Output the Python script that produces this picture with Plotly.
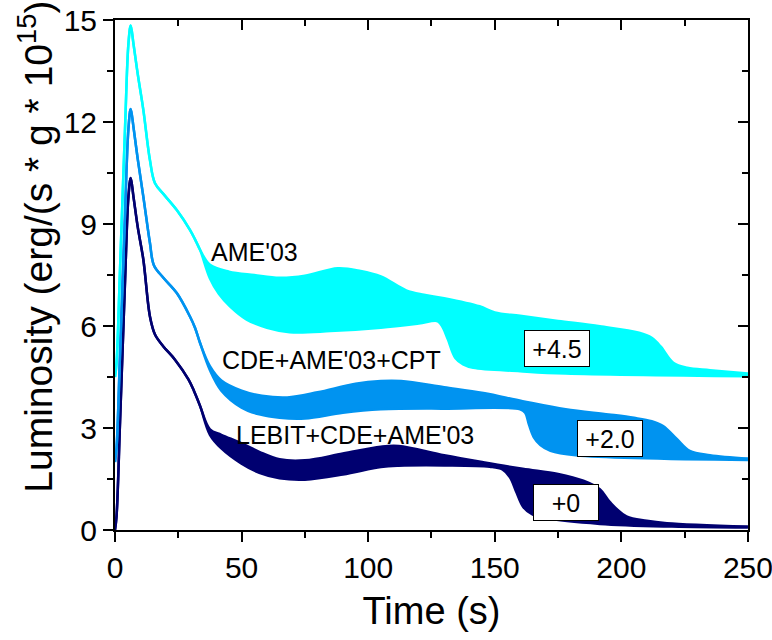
import plotly.graph_objects as go

# ---- data (luminosity before vertical offset) ----
# LEBIT+CDE+AME'03 (offset +0)
lebit_t_up = [0, 0.6, 2, 4, 5.3, 6.2, 7.3, 9, 11.2, 13.8, 15.8, 19.1, 23.7, 29, 31.2, 33.6,
              37.5, 42, 50, 57, 65, 75, 90, 105, 112, 130, 145, 161, 175, 185, 191.5, 195.5,
              202, 210, 218, 250]
lebit_up = [0, 0.4, 3.2, 7.4, 9.8, 10.35, 9.8, 8.9, 7.95, 6.28, 5.75, 5.4, 5.01, 4.43, 4.09, 3.65,
            2.96, 2.8, 2.55, 2.3, 2.08, 2.05, 2.25, 2.45, 2.47, 2.2, 2.0, 1.8, 1.65, 1.45, 1.2, 0.82,
            0.4, 0.27, 0.2, 0.1]
lebit_t_lo = [0, 0.6, 2, 4, 5.3, 6.2, 7.3, 9, 11.2, 13.8, 15.8, 19.1, 23.7, 29, 31.2, 33.6,
              37.5, 42, 50, 57, 65, 75, 90, 105, 112, 130, 148, 153, 156, 158.6, 161.3, 165,
              170, 191.5, 220, 250]
lebit_lo = [0, 0.4, 3.2, 7.4, 9.8, 10.35, 9.8, 8.9, 7.95, 6.28, 5.75, 5.4, 5.01, 4.43, 4.09, 3.65,
            2.8, 2.4, 1.95, 1.68, 1.52, 1.48, 1.63, 1.85, 1.89, 1.9, 1.86, 1.78, 1.55, 1.1, 0.67, 0.45,
            0.35, 0.18, 0.1, 0.07]

# CDE+AME'03+CPT (offset +2.0)
cpt_t_up = [0, 0.6, 2, 4, 5.3, 6.2, 7.3, 9, 11.2, 13.8, 15.4, 19.1, 24.4, 29.6, 31.6, 33.6,
            37.5, 42, 50, 58, 68, 80, 95, 105, 113, 130, 145.5, 161, 178, 195, 205, 212, 216.5,
            222, 227, 235, 250]
cpt_up = [0, 0.4, 3.2, 7.4, 9.8, 10.38, 9.85, 8.9, 7.8, 6.44, 5.78, 5.42, 4.97, 4.28, 3.95, 3.5,
          2.82, 2.4, 2.1, 1.95, 1.9, 2.05, 2.3, 2.38, 2.38, 2.2, 2.03, 1.79, 1.55, 1.4, 1.3, 1.2, 1.06,
          0.67, 0.33, 0.2, 0.1]
cpt_t_lo = [0, 0.6, 2, 4, 5.3, 6.2, 7.3, 9, 11.2, 13.8, 15.4, 19.1, 24.4, 29.6, 31.6, 33.6,
            37.5, 42, 50, 57, 65, 75, 90, 105, 130, 160, 162, 163.5, 165.5, 168, 172, 182, 250]
cpt_lo = [0, 0.4, 3.2, 7.4, 9.8, 10.38, 9.85, 8.9, 7.8, 6.44, 5.78, 5.42, 4.97, 4.28, 3.95, 3.5,
          2.7, 2.1, 1.6, 1.4, 1.3, 1.28, 1.45, 1.55, 1.57, 1.55, 1.45, 1.1, 0.72, 0.5, 0.33, 0.2, 0.06]

# AME'03 (offset +4.5)
ame_t_up = [0, 0.6, 2, 4, 5.3, 6.2, 7.3, 9, 11.2, 13.8, 15.8, 19.5, 24.4, 29.6, 31.6, 33.6,
            37.5, 45, 55, 65, 75, 88, 97, 105, 115, 122, 130, 144, 150, 160, 175, 191.5, 207,
            212, 215.5, 220.5, 226, 235, 250]
ame_up = [0, 0.4, 3.2, 7.4, 9.8, 10.34, 9.8, 8.9, 7.85, 6.38, 5.7, 5.35, 4.91, 4.33, 4.05, 3.74,
          3.3, 3.1, 3.0, 2.92, 2.98, 3.2, 3.12, 2.96, 2.55, 2.42, 2.32, 2.08, 1.9, 1.8, 1.65, 1.49, 1.3,
          1.15, 0.9, 0.42, 0.27, 0.2, 0.1]
ame_t_lo = [0, 0.6, 2, 4, 5.3, 6.2, 7.3, 9, 11.2, 13.8, 15.8, 19.5, 24.4, 29.6, 31.6, 33.6,
            37.5, 41, 45.4, 52, 60, 69, 85, 105, 120, 127.5, 129.5, 131.5, 134.5, 137.5, 141.5, 160,
            178, 250]
ame_lo = [0, 0.4, 3.2, 7.4, 9.8, 10.34, 9.8, 8.9, 7.85, 6.38, 5.7, 5.35, 4.91, 4.33, 4.05, 3.74,
          2.9, 2.45, 2.08, 1.69, 1.45, 1.32, 1.35, 1.45, 1.57, 1.64, 1.45, 1.1, 0.55, 0.37, 0.27, 0.17,
          0.1, 0.02]

names = ["LEBIT+CDE+AME'03", "CDE+AME'03+CPT", "AME'03"]
offsets = [0.0, 2.0, 4.5]
offset_labels = ["+0", "+2.0", "+4.5"]
colors = ["#000070", "#0093F0", "#00FFFF"]

bands = [
    (lebit_t_up, lebit_up, lebit_t_lo, lebit_lo),
    (cpt_t_up, cpt_up, cpt_t_lo, cpt_lo),
    (ame_t_up, ame_up, ame_t_lo, ame_lo),
]

x_ticks = [0, 50, 100, 150, 200, 250]
y_ticks = [0, 3, 6, 9, 12, 15]

# label positions (data coordinates)
name_pos = [(94.8, 2.79), (85.7, 5.0), (54.9, 8.18)]
offset_pos = [(178.1, 0.81), (195.5, 2.7), (174.6, 5.35)]

fig = go.Figure()
for (tu, vu, tl, vl), off, col, nm in zip(bands, offsets, colors, names):
    fig.add_trace(go.Scatter(
        x=tl, y=[v + off for v in vl], mode="lines",
        line=dict(color=col, width=2.5, shape="spline", smoothing=1.0),
        showlegend=False, hoverinfo="skip"))
    fig.add_trace(go.Scatter(
        x=tu, y=[v + off for v in vu], mode="lines",
        line=dict(color=col, width=2.5, shape="spline", smoothing=1.0),
        fill="tonexty", fillcolor=col, name=nm,
        showlegend=False, hoverinfo="skip"))

# invisible helpers so the top and right frame axes get drawn
fig.add_trace(go.Scatter(x=[0, 250], y=[0, 15], xaxis="x2", yaxis="y", mode="markers",
                         marker=dict(opacity=0), showlegend=False, hoverinfo="skip"))
fig.add_trace(go.Scatter(x=[0, 250], y=[0, 15], xaxis="x", yaxis="y2", mode="markers",
                         marker=dict(opacity=0), showlegend=False, hoverinfo="skip"))

FONT = "Liberation Sans, Arial, sans-serif"

annotations = []
for nm, (x, y) in zip(names, name_pos):
    annotations.append(dict(x=x, y=y, xref="x", yref="y", text=nm, showarrow=False,
                            font=dict(family=FONT, size=25, color="black"),
                            xanchor="center", yanchor="middle"))
for lab, off, (x, y) in zip(offset_labels, offsets, offset_pos):
    annotations.append(dict(x=x, y=y, xref="x", yref="y", text=lab, showarrow=False,
                            font=dict(family=FONT, size=25, color="black"),
                            xanchor="center", yanchor="middle",
                            bgcolor="white", bordercolor="black", borderwidth=1,
                            borderpad=2, width=60, height=31))
# y-axis title
annotations.append(dict(x=-0.126, y=0.556, xref="paper", yref="paper",
                        text="Luminosity (erg/(s * g * 10<sup>15</sup>)", textangle=-90,
                        showarrow=False, font=dict(family=FONT, size=39, color="black"),
                        xanchor="center", yanchor="middle"))

axis_common = dict(showgrid=False, zeroline=False, showline=True, linecolor="black",
                   linewidth=2, tickcolor="black", tickwidth=2, automargin=False)
X_RANGE = [0, 250.02]
Y_RANGE = [0, 15.001]

fig.update_layout(
    width=772, height=640,
    margin=dict(l=115, r=24, t=20, b=110),
    plot_bgcolor="white", paper_bgcolor="white",
    font=dict(family=FONT, color="black"),
    annotations=annotations,
    xaxis=dict(range=X_RANGE, tickmode="array", tickvals=x_ticks, ticks="outside", ticklen=10,
               tickfont=dict(size=30), ticklabeloverflow="allow",
               minor=dict(dtick=25, tick0=0, ticks="outside", ticklen=6, tickwidth=2,
                          tickcolor="black"),
               title=dict(text="Time (s)", font=dict(size=38), standoff=14),
               **axis_common),
    yaxis=dict(range=Y_RANGE, tickmode="array", tickvals=y_ticks, ticks="outside", ticklen=10,
               tickfont=dict(size=30), ticklabeloverflow="allow",
               minor=dict(dtick=1.5, tick0=0, ticks="outside", ticklen=6, tickwidth=2,
                          tickcolor="black"),
               **axis_common),
    xaxis2=dict(overlaying="x", side="top", anchor="y", range=X_RANGE, tickmode="array",
                tickvals=x_ticks, ticks="inside", ticklen=10, showticklabels=False,
                minor=dict(dtick=25, tick0=0, ticks="inside", ticklen=6, tickwidth=2,
                           tickcolor="black"),
                **axis_common),
    yaxis2=dict(overlaying="y", side="right", anchor="x", range=Y_RANGE, tickmode="array",
                tickvals=y_ticks, ticks="inside", ticklen=10, showticklabels=False,
                minor=dict(dtick=1.5, tick0=0, ticks="inside", ticklen=6, tickwidth=2,
                           tickcolor="black"),
                **axis_common),
)

fig.write_html("out.html")
